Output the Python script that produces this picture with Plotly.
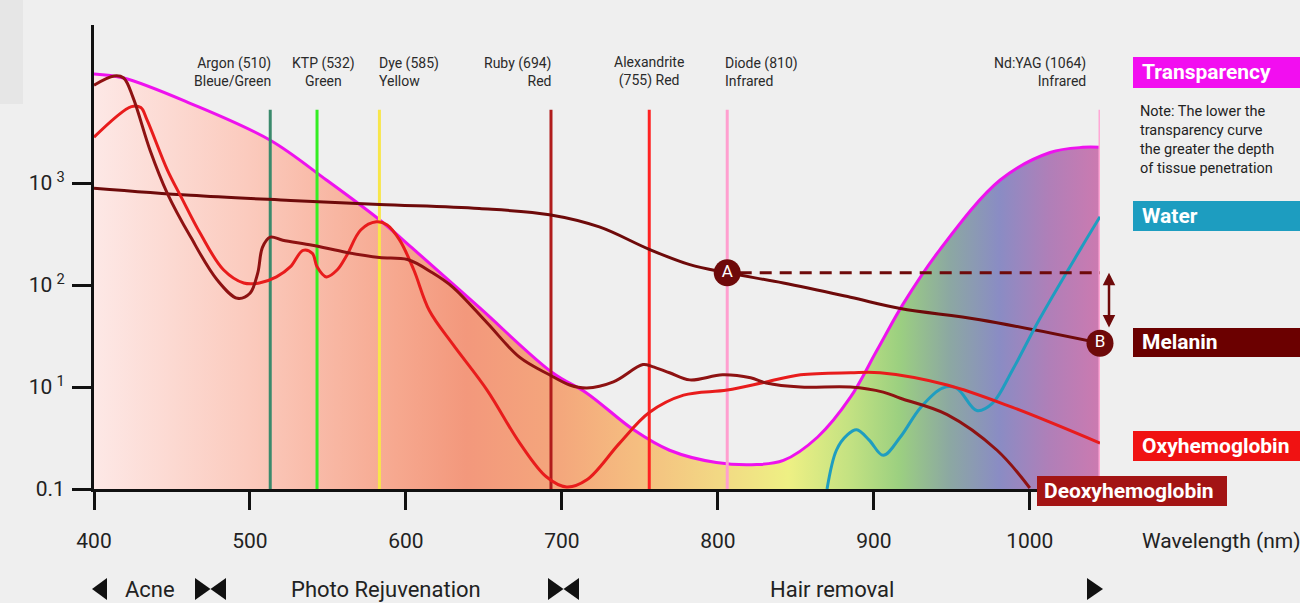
import numpy as np
import plotly.graph_objects as go

# ---------------- DATA ----------------
# wavelength (nm) and absorption in decade units of the illustrative log axis
# (0 -> 0.1, 1 -> 10^1, 2 -> 10^2, 3 -> 10^3)
transparency_nm = [400, 419, 462, 513, 549, 583, 605, 647, 694, 716, 746, 769, 799, 825, 842, 864, 885, 902, 919, 942, 981, 1013, 1034, 1045]
transparency_val = [4.07, 4.03, 3.78, 3.42, 3.03, 2.64, 2.35, 1.78, 1.14, 0.94, 0.58, 0.38, 0.26, 0.24, 0.28, 0.51, 0.90, 1.36, 1.82, 2.34, 3.03, 3.30, 3.35, 3.35]

melanin_nm = [400, 462, 526, 583, 647, 692, 724, 756, 782, 806, 842, 885, 917, 968, 1045]
melanin_val = [2.95, 2.88, 2.83, 2.79, 2.75, 2.69, 2.57, 2.35, 2.20, 2.12, 2.02, 1.88, 1.77, 1.66, 1.43]

deoxy_nm = [400, 413, 419, 425, 436, 447, 462, 479, 492, 500, 505, 508, 513, 521, 540, 562, 583, 601, 617, 630, 652, 673, 692, 705, 716, 733, 752, 758, 769, 782, 803, 821, 831, 853, 885, 906, 917, 947, 979, 1000]
deoxy_val = [3.96, 4.05, 4.03, 3.84, 3.32, 2.90, 2.47, 2.05, 1.87, 1.92, 2.12, 2.37, 2.47, 2.44, 2.39, 2.32, 2.27, 2.25, 2.12, 1.98, 1.63, 1.29, 1.12, 1.02, 0.99, 1.05, 1.22, 1.20, 1.14, 1.07, 1.12, 1.09, 1.04, 1.00, 1.00, 0.95, 0.89, 0.73, 0.38, 0.01]

oxy_nm = [400, 424, 430, 434, 447, 456, 468, 483, 496, 506, 517, 526, 534, 540, 543, 549, 556, 562, 571, 581, 588, 596, 605, 615, 630, 652, 673, 690, 703, 716, 737, 756, 778, 806, 831, 853, 885, 904, 947, 989, 1045]
oxy_val = [3.45, 3.75, 3.74, 3.62, 3.13, 2.86, 2.51, 2.15, 2.02, 2.02, 2.08, 2.18, 2.34, 2.31, 2.18, 2.08, 2.15, 2.29, 2.54, 2.62, 2.59, 2.44, 2.15, 1.75, 1.42, 0.97, 0.45, 0.12, 0.02, 0.09, 0.45, 0.75, 0.92, 0.97, 1.05, 1.12, 1.14, 1.14, 1.02, 0.80, 0.45]

water_nm = [870, 876, 883, 889, 897, 906, 917, 930, 944, 953, 966, 976, 989, 1006, 1032, 1045]
water_val = [0.0, 0.38, 0.53, 0.58, 0.48, 0.33, 0.51, 0.80, 0.99, 0.99, 0.77, 0.84, 1.17, 1.66, 2.34, 2.67]

laser_labels = ["Argon (510)<br>Bleue/Green", "KTP (532)<br>Green", "Dye (585)<br>Yellow",
                "Ruby (694)<br>Red", "Alexandrite<br>(755) Red", "Diode (810)<br>Infrared",
                "Nd:YAG (1064)<br>Infrared"]
laser_pos = [513, 543, 583, 693, 756, 806, 1045]

x_ticks = [400, 500, 600, 700, 800, 900, 1000]
y_ticks = [0, 1, 2, 3]
y_tick_text = ["0.1", "10\u2009<sup>1</sup>", "10\u2009<sup>2</sup>", "10\u2009<sup>3</sup>"]

# ---------------- STYLE ----------------
laser_colors = ["#3a8a6c", "#33ee22", "#f8e64a", "#b01c1c", "#ff2222", "#ff9fcf", "#ffa8d6"]
laser_anchor = ["right", "center", "left", "right", "center", "left", "right"]
laser_shift = [3, 6, -2, 3, 0, -4, -12]
LASER_TOP = 3.72

C_MAG = "#ee12ee"
C_MEL = "#6e0a0a"
C_DEOXY = "#8e1212"
C_OXY = "#e81c1c"
C_WATER = "#1f9dc0"
BG = "#efefef"
FONT = "Roboto"

L, R, T, B = 94, 200, 25, 114
W, H = 1300, 603
PW, PH = W - L - R, H - T - B
XR = [400, 1045]
YR = [0, 4.55]


def px(x):
    return (x - L) / PW


def py(y):
    return (H - B - y) / PH


def xpaper(nm):
    return (nm - XR[0]) / (XR[1] - XR[0])


fig = go.Figure()

# transparency area with horizontal colour gradient
fig.add_trace(go.Scatter(
    x=transparency_nm, y=transparency_val, mode="lines",
    line=dict(color=C_MAG, width=3, shape="spline", smoothing=1),
    fill="tozeroy",
    fillgradient=dict(type="horizontal", start=400, stop=1045, colorscale=[
        [0.0, "#fde8e6"], [0.155, "#fbcabd"], [0.30, "#f6a88f"], [0.37, "#f3987c"],
        [0.46, "#f4a67c"], [0.54, "#f5be80"], [0.62, "#f2d884"], [0.69, "#eef084"],
        [0.75, "#c4e282"], [0.80, "#9cd080"], [0.85, "#8ca8a2"], [0.90, "#8a8cc4"],
        [0.95, "#b07fb8"], [1.0, "#cc7ab0"]]),
    hoverinfo="skip", showlegend=False))

# laser lines
for pos, col in zip(laser_pos, laser_colors):
    fig.add_trace(go.Scatter(x=[pos, pos], y=[0, LASER_TOP], mode="lines",
                             line=dict(color=col, width=3), hoverinfo="skip",
                             showlegend=False, cliponaxis=False))

# curves
for xs, ys, col in [(melanin_nm, melanin_val, C_MEL), (water_nm, water_val, C_WATER),
                    (oxy_nm, oxy_val, C_OXY), (deoxy_nm, deoxy_val, C_DEOXY)]:
    fig.add_trace(go.Scatter(x=xs, y=ys, mode="lines",
                             line=dict(color=col, width=3, shape="spline", smoothing=1),
                             hoverinfo="skip", showlegend=False))

# A / B points on melanin
a_x = laser_pos[5]
a_y = float(np.interp(a_x, melanin_nm, melanin_val))
b_x = melanin_nm[-1]
b_y = melanin_val[-1]
fig.add_trace(go.Scatter(x=[a_x + 8, b_x], y=[a_y, a_y], mode="lines",
                         line=dict(color=C_MEL, width=3, dash="12px,8px"),
                         hoverinfo="skip", showlegend=False, cliponaxis=False))
fig.add_trace(go.Scatter(x=[a_x, b_x], y=[a_y, b_y], mode="markers+text",
                         marker=dict(size=27, color=C_MEL),
                         text=["A", "B"], textposition="middle center",
                         textfont=dict(color="white", size=17, family=FONT),
                         hoverinfo="skip", showlegend=False, cliponaxis=False))

annotations = []
shapes = []

# vertical double arrow between A level and B
annotations.append(dict(xref="paper", yref="y", x=px(1109), y=a_y,
                        axref="pixel", ayref="y", ax=0, ay=b_y + 0.14,
                        text="", showarrow=True, arrowside="end+start",
                        arrowhead=2, arrowsize=1, arrowwidth=2.5, arrowcolor=C_MEL))

# laser labels
for lab, pos, anc, sh in zip(laser_labels, laser_pos, laser_anchor, laser_shift):
    annotations.append(dict(xref="paper", yref="paper", x=xpaper(pos), y=py(71.5),
                            xanchor=anc, yanchor="middle", align=anc, xshift=sh,
                            text=lab, showarrow=False,
                            font=dict(family=FONT, size=14, color="#2a2a2a")))

# legend boxes
boxes = [("Transparency", "#f20ef0", 1133, 57, 88),
         ("Water", "#1d9dc0", 1133, 201, 231),
         ("Melanin", "#6b0000", 1133, 328, 357),
         ("Oxyhemoglobin", "#f01212", 1133, 431, 461)]
for txt, col, x0, y0, y1 in boxes:
    shapes.append(dict(type="rect", xref="paper", yref="paper", x0=px(x0), x1=px(1310),
                       y0=py(y1), y1=py(y0), fillcolor=col, line=dict(width=0), layer="above"))
    annotations.append(dict(xref="paper", yref="paper", x=px(1140), y=py((y0 + y1) / 2),
                            xanchor="left", yanchor="middle", text="<b>%s</b>" % txt,
                            showarrow=False, font=dict(family=FONT, size=21, color="white")))
shapes.append(dict(type="rect", xref="paper", yref="paper", x0=px(1037), x1=px(1227),
                   y0=py(506), y1=py(476), fillcolor="#a31414", line=dict(width=0), layer="above"))
annotations.append(dict(xref="paper", yref="paper", x=px(1042), y=py(491),
                        xanchor="left", yanchor="middle", text="<b>Deoxyhemoglobin</b>",
                        showarrow=False, font=dict(family=FONT, size=21, color="white")))

annotations.append(dict(xref="paper", yref="paper", x=px(1138), y=py(140),
                        xanchor="left", yanchor="middle", align="left",
                        text="Note: The lower the<br>transparency curve<br>the greater the depth<br>of tissue penetration",
                        showarrow=False, font=dict(family=FONT, size=14.5, color="#222")))

annotations.append(dict(xref="paper", yref="paper", x=px(1140), y=py(541),
                        xanchor="left", yanchor="middle", text="Wavelength (nm)",
                        showarrow=False, font=dict(family=FONT, size=21, color="#222")))

# bottom treatment bands
for txt, cx in [("Acne", 150), ("Photo Rejuvenation", 386), ("Hair removal", 832)]:
    annotations.append(dict(xref="paper", yref="paper", x=px(cx), y=py(589),
                            xanchor="center", yanchor="middle", text=txt,
                            showarrow=False, font=dict(family=FONT, size=22, color="#222")))


def tri(tip_x, base_x):
    return dict(type="path", xref="paper", yref="paper", fillcolor="#111", line=dict(width=0),
                path="M %f,%f L %f,%f L %f,%f Z" % (px(base_x), py(578), px(base_x), py(600),
                                                    px(tip_x), py(589)))


shapes += [tri(92, 107), tri(210.5, 195), tri(210.5, 226), tri(563.5, 548), tri(563.5, 579),
           tri(1103, 1087)]

# top-left grey block
shapes.append(dict(type="rect", xref="paper", yref="paper", x0=px(0), x1=px(23),
                   y0=py(104), y1=py(0), fillcolor="#e6e6e6", line=dict(width=0), layer="below"))

fig.update_layout(
    width=W, height=H,
    margin=dict(l=L, r=R, t=T, b=B, autoexpand=False),
    paper_bgcolor=BG, plot_bgcolor=BG,
    font=dict(family=FONT, color="#222"),
    showlegend=False,
    annotations=annotations, shapes=shapes,
    xaxis=dict(range=XR, tickvals=x_ticks, ticks="outside", ticklen=18, tickwidth=3,
               tickcolor="#111", showline=True, linewidth=3, linecolor="#111",
               showgrid=False, zeroline=False, ticklabelstandoff=13,
               tickfont=dict(family=FONT, size=21, color="#222"), automargin=False),
    yaxis=dict(range=YR, tickvals=y_ticks, ticktext=y_tick_text, ticks="outside",
               ticklen=19, tickwidth=3, tickcolor="#111", showline=True, linewidth=3,
               linecolor="#111", showgrid=False, zeroline=False, ticklabelstandoff=3,
               tickfont=dict(family=FONT, size=21, color="#222"), automargin=False),
)

fig.write_html("out.html", config={"displayModeBar": False},
               post_script="document.body.style.margin='0';document.body.style.padding='0';"
                           "document.body.style.overflow='hidden';"
                           "document.body.style.background='%s';" % BG)
